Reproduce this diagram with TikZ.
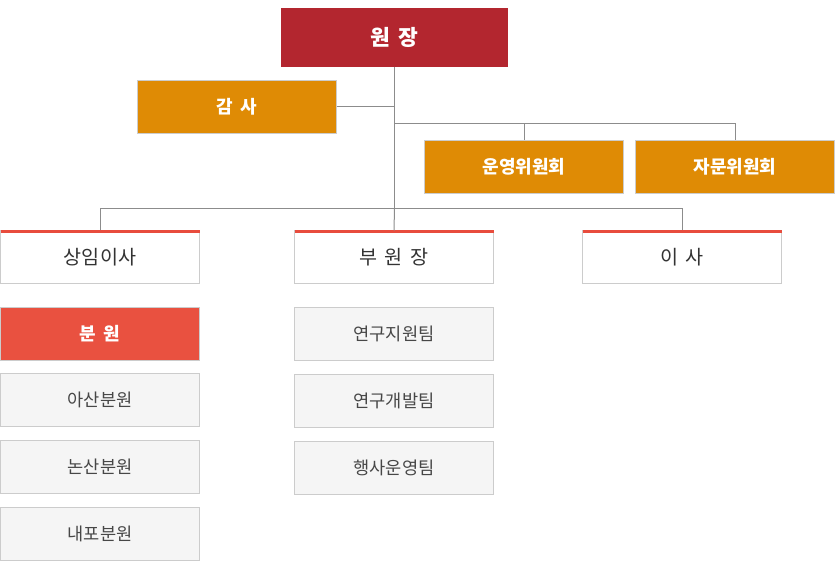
\documentclass[tikz,border=0pt]{standalone}
\usepackage{fontspec}
\setmainfont{Noto Sans CJK KR}
\newfontfamily\wide[WordSpace=1.7]{Noto Sans CJK KR}
\usepackage{tikz}
\usetikzlibrary{positioning,calc}
\definecolor{headred}{HTML}{B3262F}
\definecolor{auditorange}{HTML}{DF8B05}
\definecolor{topred}{HTML}{E84C3D}
\definecolor{branchred}{HTML}{E95140}
\definecolor{linegray}{HTML}{8C8C8C}
\definecolor{boxgray}{HTML}{CCCCCC}
\definecolor{textgray}{HTML}{333333}
\definecolor{listfill}{HTML}{F5F5F5}

\tikzset{
  unitbox/.style={anchor=north west, inner sep=0pt, outer sep=0pt, line width=1pt,
    minimum width=199pt, minimum height=53pt},
  headbox/.style={unitbox, fill=headred, minimum width=227pt, minimum height=59pt,
    text=white, font=\wide\fontsize{21.5pt}{23pt}\selectfont\bfseries},
  orangebox/.style={unitbox, fill=auditorange, draw=boxgray, text=white,
    font=\wide\fontsize{18pt}{20pt}\selectfont\bfseries},
  rankbox/.style={unitbox, fill=white, draw=boxgray, text=textgray,
    font=\wide\fontsize{19.6pt}{21pt}\selectfont},
  listbox/.style={unitbox, fill=listfill, draw=boxgray, text=textgray!90,
    font=\fontsize{17.6pt}{19pt}\selectfont},
  branchbox/.style={unitbox, fill=branchred, draw=boxgray, text=white,
    font=\wide\fontsize{18pt}{20pt}\selectfont\bfseries},
  link/.style={draw=linegray, line width=1pt}
}

\begin{document}
\begin{tikzpicture}[x=1pt,y=-1pt]
  \useasboundingbox (0,0) rectangle (836,572);

  % Top level
  \node[headbox] (head) at (281,8) {원 장};
  \node[orangebox] (audit) at (137.5,80.5) {감 사};
  \node[orangebox] (ops) at (424.5,140.5) {운영위원회};
  \node[orangebox] (advisory) at (635.5,140.5) {자문위원회};

  % Second level
  \node[rankbox] (standing) at (0.5,230.5) {상임이사};
  \node[rankbox] (deputy) at (294.5,230.5) {부 원 장};
  \node[rankbox] (director) at (582.5,230.5) {이 사};
  \foreach \n in {standing,deputy,director}
    \draw[topred,line width=3pt] ([yshift=-1pt]\n.north west)
      -- ([yshift=-1pt]\n.north east);

  % Connectors
  \coordinate (cmtfork) at (head.south |- 0,123.5);
  \coordinate (fork) at (head.south |- 0,208.5);
  \draw[link] (head.south) -- (fork);
  \draw[link] (audit.east) -- (audit.east -| head.south);
  \draw[link] (cmtfork) -| (advisory.north);
  \draw[link] (cmtfork -| ops.north) -- (ops.north);
  \draw[link] (standing.north) |- (fork) -| (director.north);
  \draw[link] (fork) -- (deputy.north);

  % Branches
  \node[branchbox] (bunwon) at (0.5,307.5) {분 원};
  \foreach \y/\name/\lab in {373.5/asan/아산분원, 440.5/nonsan/논산분원, 507.5/naepo/내포분원}
    \node[listbox] (\name) at (0.5,\y) {\lab};

  % Teams
  \foreach \y/\name/\lab in {307.5/support/연구지원팀, 374.5/devel/연구개발팀, 441.5/event/행사운영팀}
    \node[listbox] (\name) at (294.5,\y) {\lab};
\end{tikzpicture}
\end{document}
